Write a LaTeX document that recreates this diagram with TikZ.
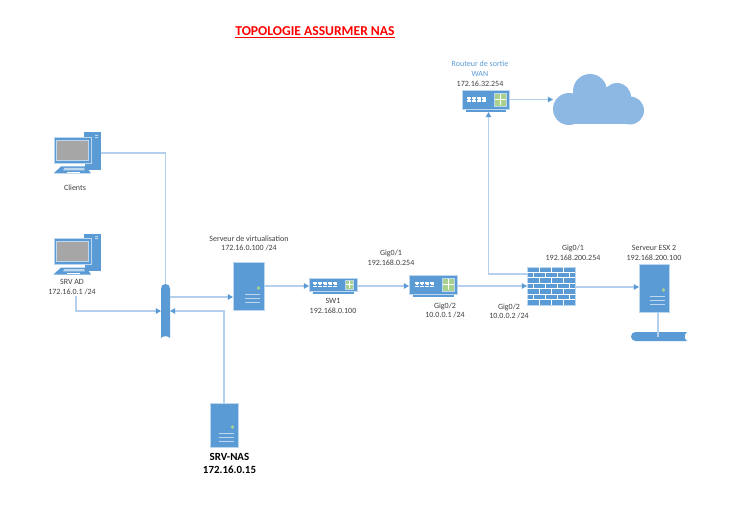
\documentclass[tikz,border=0pt]{standalone}
\usepackage{fontspec}
\setmainfont{Carlito}
\usetikzlibrary{arrows.meta}
\definecolor{devblue}{HTML}{5B9BD5}
\definecolor{linkblue}{HTML}{B4D0EC}
\definecolor{tipblue}{HTML}{5B9BD5}
\definecolor{edgeblue}{HTML}{BDD7EE}
\definecolor{ledgreen}{HTML}{A9D18E}
\definecolor{screengray}{HTML}{A6A6A6}
\definecolor{cloudblue}{HTML}{8DB8E3}
\definecolor{labelgray}{HTML}{404040}
\definecolor{wanblue}{HTML}{5B9BD5}
\tikzset{
  px/.style={inner sep=0pt,outer sep=0pt},
  devbody/.style={px,rectangle,fill=devblue,draw=edgeblue,line width=.5pt},
  ghost/.style={px,rectangle},
  link/.style={draw=linkblue,line width=.8pt},
  linkarrow/.style={link,-{Triangle[length=3.8pt,width=4pt,color=tipblue]}},
  lbl/.style={px,font=\fontsize{6}{7.2}\selectfont,text=labelgray,align=center},
  wanlbl/.style={lbl,text=wanblue},
  naslbl/.style={px,font=\fontsize{8.2}{9.6}\selectfont\bfseries,text=black,align=center},
  titlelbl/.style={px,font=\fontsize{10.2}{12}\selectfont\bfseries,text=red}
}
% name, cx, cy, w, h
\newcommand{\ServerAt}[5]{%
  \node[devbody,minimum width=#4*0.75pt,minimum height=#5*0.75pt] (#1) at (#2,#3) {};
  \begin{scope}[shift={(#2,#3)}]
    \fill[ledgreen] (#4*0.5-5.5,2) circle (1.9);
    \foreach \yy in {8.5,12.5,16.5}
      \draw[edgeblue,line width=.75pt] (#4*0.5-19,\yy) -- (#4*0.5-4.5,\yy);
  \end{scope}
}
% name, cx, cy
\newcommand{\DesktopAt}[3]{%
  \node[ghost,minimum width=47*0.75pt,minimum height=41*0.75pt] (#1) at (#2,#3) {};
  \begin{scope}[shift={(#2,#3)}]
    \fill[devblue] (7,-20.5) rectangle (23.5,17);
    \fill[edgeblue] (18,-18) rectangle (21,-17) (18,-15.8) rectangle (21,-14.8);
    \fill[white] (-10.5,9) rectangle (7.5,17);
    \fill[devblue] (-4,7) rectangle (2.5,11);
    \filldraw[fill=devblue,draw=edgeblue,line width=.6pt] (-23,-15.5) rectangle (14,10);
    \filldraw[fill=screengray,draw=edgeblue,line width=.6pt] (-20.5,-13) rectangle (11.5,7.5);
    \fill[devblue] (-16,13.5) -- (9,13.5) -- (14,20.5) -- (-23.5,20.5) -- cycle;
    \fill[edgeblue] (-12.5,15) -- (7,15) -- (7.8,17.3) -- (-14,17.3) -- cycle;
    \fill[white] (-10,18.6) rectangle (3,19.6);
  \end{scope}
}
% name, cx, cy, w, h, ports, port-start (rel), green-left (rel), green size
\newcommand{\NetBox}[9]{%
  \node[devbody,minimum width=#4*0.75pt,minimum height=#5*0.75pt] (#1) at (#2,#3) {};
  \begin{scope}[shift={(#2,#3)}]
    \foreach \pp in {1,...,#6} {
      \pgfmathsetmacro{\ppx}{#7+(\pp-1)*5.1}
      \fill[white] (\ppx,-2.8) rectangle (\ppx+4,-.6);
      \fill[white] (\ppx+.7,-.6) rectangle (\ppx+3.3,.2);
      \fill[white] (\ppx,1) rectangle (\ppx+4,2.8);
    }
    \filldraw[fill=ledgreen,draw=edgeblue,line width=.3pt] (#8,-#9*0.5) rectangle (#8+#9,#9*0.5);
    \draw[white,line width=.35pt] (#8+1,0) -- (#8+#9-1,0) (#8+#9*0.5,-#9*0.5+1) -- (#8+#9*0.5,#9*0.5-1);
    \draw[devblue,line width=.9pt] (-#4*0.5+3.5,#5*0.5+2) -- (#4*0.5-3.5,#5*0.5+2);
  \end{scope}
}
\begin{document}
\begin{tikzpicture}[x=0.75pt,y=-0.75pt]
\useasboundingbox (0,0) rectangle (745,527);
\fill[white] (0,0) rectangle (745,527);

\node[titlelbl] (title) at (315,32) {\underline{TOPOLOGIE ASSURMER NAS}};

% devices
\DesktopAt{clients}{77}{153}
\DesktopAt{srvad}{77}{254}
\ServerAt{virt}{248.5}{286}{31}{48}
\ServerAt{nas}{224}{425}{28}{44}
\ServerAt{esx}{654}{288}{30}{48}
\NetBox{sw}{333}{284.5}{48}{13}{5}{-20}{12}{8.5}
\NetBox{rtr}{433}{284.5}{48}{19}{4}{-18}{9}{12.5}
\NetBox{wan}{485.5}{99.5}{47}{19}{4}{-18.5}{8.5}{12.5}

% firewall
\node[devbody,minimum width=48*0.75pt,minimum height=38*0.75pt] (fw) at (551,286) {};
\begin{scope}[shift={(551,286)}]
  \foreach \yy in {-13.6,-8.2,-2.7,2.7,8.2,13.6}
    \draw[white,line width=.55pt] (-24,\yy) -- (24,\yy);
  \foreach \xx in {-12,0,12} {
    \draw[white,line width=.55pt] (\xx,-19) -- (\xx,-13.6) (\xx,-8.2) -- (\xx,-2.7) (\xx,2.7) -- (\xx,8.2) (\xx,13.6) -- (\xx,19);
  }
  \foreach \xx in {-18,-6,6,18} {
    \draw[white,line width=.55pt] (\xx,-13.6) -- (\xx,-8.2) (\xx,-2.7) -- (\xx,2.7) (\xx,8.2) -- (\xx,13.6);
  }
\end{scope}

% cloud
\node[ghost,minimum width=91*0.75pt,minimum height=51*0.75pt] (cloud) at (598.5,99.5) {};
\fill[cloudblue] (590,91) circle (17) (617,97) circle (14) (630,110.5) circle (14) (569,109) circle (16);
\fill[cloudblue] (569,99) rectangle (630,124.5);

% connectors under the buses
\node[ghost,minimum width=9*0.75pt,minimum height=54*0.75pt] (busa) at (165.5,311) {};
\node[ghost,minimum width=56*0.75pt,minimum height=9*0.75pt] (busb) at (659,336.5) {};

% buses
\fill[devblue] (161,338) -- (161,288.5) arc[start angle=180,end angle=360,radius=4.5] -- (170,338)
   .. controls (168,335.6) and (163,335.6) .. (161,338) -- cycle;
\fill[devblue] (687,332) -- (635.5,332) arc[start angle=270,end angle=90,radius=4.5] -- (687,341)
   .. controls (684,339) and (684,334) .. (687,332) -- cycle;

% connectors
\coordinate (cltout) at (clients.east);
\draw[link] (cltout) -- (cltout -| busa.north) -- (busa.north);
\coordinate (adout) at (76,296);
\coordinate (adbus) at (adout |- 0,311);
\draw[linkarrow] (adout) -- (adbus) -- (busa.west |- adbus);
\draw[link,{Triangle[length=3.8pt,width=4pt,color=tipblue]}-] (busa.east |- adbus) -- (nas.north |- adbus) -- (nas.north);
\coordinate (busout) at (170,297);
\draw[linkarrow] (busout) -- (busout -| virt.west);
\draw[linkarrow] (virt.east) -- (sw.west |- virt.east);
\draw[linkarrow] (sw.east |- virt.east) -- (rtr.west |- virt.east);
\draw[linkarrow] (rtr.east |- virt.east) -- (fw.west |- virt.east);
\draw[linkarrow] (fw.east |- 0,287) -- (esx.west |- 0,287);
\coordinate (fwup) at (527,274);
\draw[linkarrow] (fwup) -- (488.5,274) -- (488.5,112);
\draw[linkarrow] (wan.east) -- (cloud.west |- wan.east);
\draw[link] (esx.south -| 658,0) -- (658,337);

% labels
\node[lbl] (lclients) at (75,188) {Clients};
\node[lbl] (lad) at (72,287) {SRV AD\\172.16.0.1 /24};
\node[lbl] (lvirt) at (249,243.5) {Serveur de virtualisation\\172.16.0.100 /24};
\node[lbl] (lsw) at (333,306) {SW1\\192.168.0.100};
\node[lbl] (lg1) at (391,258) {Gig0/1\\192.168.0.254};
\node[lbl] (lg2) at (445,310.5) {Gig0/2\\10.0.0.1 /24};
\node[lbl] (lg3) at (509,311.5) {Gig0/2\\10.0.0.2 /24};
\node[lbl] (lg4) at (573,253) {Gig0/1\\192.168.200.254};
\node[lbl] (lesx) at (654,253) {Serveur ESX 2\\192.168.200.100};
\node[wanlbl] (lwan) at (480,68.5) {Routeur de sortie\\WAN};
\node[lbl] (lwanip) at (480,84) {172.16.32.254};
\node[naslbl] (lnas) at (229.5,463.5) {SRV-NAS\\172.16.0.15};
\end{tikzpicture}
\end{document}
